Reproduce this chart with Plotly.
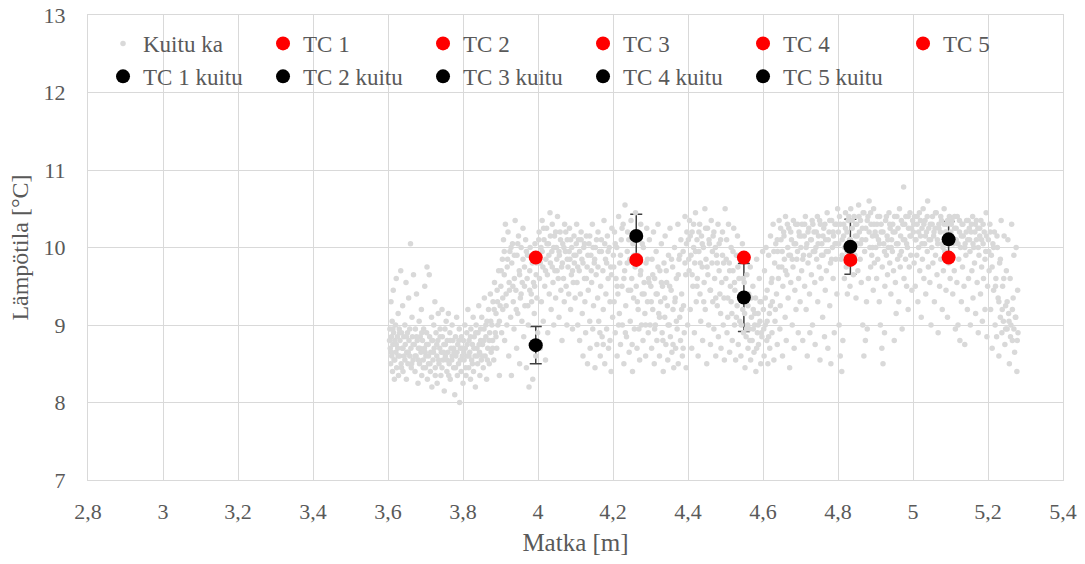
import plotly.graph_objects as go

# Fibre (Kuitu ka) temperature readings: (matka [m], lämpötila [°C])
kuitu_ka = [
(3.605,8.95),(3.606,8.7),(3.607,8.5),(3.608,9.3),(3.609,8.85),(3.61,8.6),(3.611,9.05),(3.612,8.4),(3.613,8.75),(3.614,9.45),(3.615,8.9),(3.616,8.55),(3.617,8.3),(3.618,8.8),(3.62,9.0),(3.621,8.65),(3.622,9.6),(3.623,8.45),(3.625,8.85),(3.626,8.7),(3.627,9.15),(3.628,8.35),(3.63,8.95),(3.631,8.6),(3.632,8.8),(3.634,9.7),(3.635,8.5),(3.636,8.9),(3.638,8.7),(3.639,9.25),(3.64,8.4),(3.642,8.85),(3.643,8.6),(3.645,9.0),(3.646,8.75),(3.648,9.55),(3.649,8.3),(3.65,8.65),(3.652,8.9),(3.653,8.5),(3.655,9.35),(3.656,8.8),(3.658,8.6),(3.66,10.05),(3.661,8.7),(3.662,8.45),(3.664,9.1),(3.665,8.85),(3.667,8.55),(3.668,9.65),(3.67,8.75),(3.672,8.4),(3.673,8.95),(3.675,8.6),(3.676,9.4),(3.678,8.8),(3.68,8.25),(3.681,8.7),(3.683,9.05),(3.684,8.5),(3.686,8.85),(3.688,8.65),(3.689,9.2),(3.69,8.35),(3.692,8.8),(3.694,8.55),(3.695,8.95),(3.697,8.7),(3.698,9.5),(3.7,8.45),
(3.701,8.6),(3.703,8.9),(3.704,9.75),(3.705,8.3),(3.707,8.75),(3.708,8.5),(3.71,9.65),(3.711,8.85),(3.713,8.4),(3.714,8.65),(3.716,9.1),(3.717,8.2),(3.719,8.8),(3.72,8.55),(3.722,9.0),(3.723,8.7),(3.725,9.3),(3.726,8.45),(3.728,8.9),(3.73,8.6),(3.731,8.25),(3.733,8.8),(3.734,9.15),(3.736,8.5),(3.738,8.7),(3.739,8.95),(3.741,8.35),(3.742,8.65),(3.744,9.2),(3.745,8.85),(3.747,8.55),(3.749,8.75),(3.75,8.15),(3.752,8.95),(3.753,8.6),(3.755,9.05),(3.757,8.4),(3.758,8.8),(3.76,8.65),(3.761,9.15),(3.763,8.5),(3.765,8.9),(3.766,8.3),(3.768,8.7),(3.77,8.55),(3.771,9.0),(3.773,8.8),(3.775,8.45),(3.776,8.65),(3.778,8.1),(3.78,8.85),(3.781,8.6),(3.783,9.1),(3.785,8.35),(3.786,8.75),(3.788,8.5),(3.79,8.95),(3.791,8.0),(3.793,8.7),(3.795,8.4),(3.796,8.85),(3.798,8.6),(3.8,8.25),
(3.801,8.8),(3.803,8.55),(3.805,9.0),(3.806,8.7),(3.808,8.35),(3.81,8.9),(3.811,8.6),(3.813,9.2),(3.815,8.45),(3.816,8.8),(3.818,8.65),(3.82,8.3),(3.821,8.95),(3.823,8.55),(3.825,8.75),(3.827,9.1),(3.828,8.4),(3.83,8.85),(3.832,8.6),(3.833,8.2),(3.835,9.0),(3.837,8.7),(3.839,8.5),(3.84,8.9),(3.842,9.25),(3.844,8.65),(3.845,8.35),(3.847,8.8),(3.849,8.55),(3.85,9.1),(3.852,8.75),(3.854,8.45),(3.856,8.95),(3.857,9.35),(3.859,8.6),(3.861,8.85),(3.863,8.3),(3.864,9.05),(3.866,8.7),(3.868,9.2),(3.87,8.5),(3.871,8.9),(3.873,9.4),(3.875,8.65),(3.877,9.0),(3.879,8.8),(3.88,9.3),(3.882,8.55),(3.884,9.55),(3.886,8.9),(3.888,9.15),(3.89,8.7),(3.891,9.45),(3.893,9.0),(3.895,9.7),(3.897,8.35),(3.899,9.25),
(3.901,9.5),(3.903,8.9),(3.905,9.85),(3.906,9.2),(3.908,10.1),(3.91,9.65),(3.911,8.8),(3.913,10.3),(3.915,9.4),(3.917,9.0),(3.918,9.75),(3.92,10.2),(3.922,8.6),(3.923,9.55),(3.925,9.95),(3.927,9.1),(3.929,8.35),(3.93,9.8),(3.932,10.05),(3.934,9.3),(3.936,8.95),(3.937,9.6),(3.939,10.35),(3.941,9.45),(3.943,8.7),(3.944,9.9),(3.946,9.15),(3.948,10.15),(3.95,9.7),(3.951,8.5),(3.953,9.35),(3.955,10.0),(3.957,9.05),(3.958,9.55),(3.96,10.25),(3.962,8.85),(3.964,9.75),(3.965,9.25),(3.967,10.1),(3.969,8.45),(3.971,9.6),(3.972,9.9),(3.974,9.0),(3.976,8.2),(3.978,9.45),(3.979,10.0),(3.981,8.75),(3.983,9.3),(3.985,9.8),(3.986,8.3),(3.988,9.55),(3.99,9.15),(3.992,10.05),(3.994,8.6),(3.995,9.65),(3.997,9.35),(3.999,8.9),
(4.001,9.9),(4.003,10.2),(4.004,9.6),(4.006,8.7),(4.008,10.0),(4.009,9.3),(4.011,10.35),(4.013,9.75),(4.014,9.05),(4.016,10.1),(4.018,9.5),(4.02,8.55),(4.021,9.85),(4.023,10.25),(4.025,9.65),(4.026,8.9),(4.028,10.05),(4.03,9.4),(4.032,10.45),(4.033,9.8),(4.035,9.2),(4.037,9.95),(4.038,10.3),(4.04,9.55),(4.042,9.0),(4.044,10.15),(4.045,9.7),(4.047,9.35),(4.049,10.0),(4.05,9.85),(4.052,10.4),(4.054,9.6),(4.056,9.1),(4.057,9.9),(4.059,10.2),(4.061,9.45),(4.063,9.75),(4.064,8.8),(4.066,10.05),(4.068,9.6),(4.07,9.3),(4.071,10.3),(4.073,9.95),(4.075,9.5),(4.077,9.0),(4.078,10.1),(4.08,9.75),(4.082,9.4),(4.084,10.25),(4.085,9.85),(4.087,9.2),(4.089,9.65),(4.09,10.0),(4.092,8.95),(4.094,9.55),(4.096,10.15),(4.097,9.8),(4.099,9.35),
(4.101,9.9),(4.103,10.3),(4.104,9.55),(4.106,9.0),(4.108,10.1),(4.11,9.7),(4.111,8.8),(4.113,9.4),(4.115,10.2),(4.117,9.85),(4.118,9.15),(4.12,8.6),(4.122,10.0),(4.124,9.6),(4.125,9.3),(4.127,8.9),(4.129,10.15),(4.131,9.75),(4.132,8.5),(4.134,9.45),(4.136,10.05),(4.138,9.05),(4.139,8.7),(4.141,9.9),(4.143,9.55),(4.145,10.3),(4.146,8.95),(4.148,9.25),(4.15,9.8),(4.152,8.45),(4.153,10.0),(4.155,9.65),(4.157,8.75),(4.159,9.35),(4.16,10.2),(4.162,9.05),(4.164,9.95),(4.166,8.6),(4.167,9.5),(4.169,10.1),(4.171,8.85),(4.173,9.7),(4.174,9.2),(4.176,10.35),(4.178,8.5),(4.18,9.85),(4.181,9.4),(4.183,8.95),(4.185,10.15),(4.187,9.6),(4.188,8.7),(4.19,10.0),(4.192,9.3),(4.194,9.75),(4.195,8.4),(4.197,10.25),(4.199,9.1),
(4.201,9.9),(4.203,9.3),(4.204,10.2),(4.206,8.9),(4.208,9.6),(4.21,10.0),(4.211,8.6),(4.213,9.4),(4.215,10.4),(4.217,9.15),(4.218,9.8),(4.22,8.75),(4.222,10.1),(4.224,9.5),(4.225,9.0),(4.227,10.3),(4.229,8.5),(4.231,9.7),(4.232,10.55),(4.234,9.25),(4.236,8.85),(4.238,9.95),(4.239,10.2),(4.241,9.45),(4.243,8.65),(4.245,9.85),(4.246,9.05),(4.248,10.35),(4.25,9.6),(4.252,8.4),(4.253,10.05),(4.255,9.35),(4.257,8.95),(4.259,9.75),(4.26,10.45),(4.262,9.5),(4.264,8.7),(4.266,9.9),(4.267,9.2),(4.269,10.1),(4.271,8.55),(4.273,9.65),(4.274,10.3),(4.276,9.0),(4.278,9.4),(4.28,8.8),(4.281,10.0),(4.283,9.55),(4.285,9.15),(4.287,8.6),(4.288,9.8),(4.29,10.25),(4.292,9.3),(4.294,8.9),(4.295,9.6),(4.297,10.1),(4.299,9.0),
(4.301,9.5),(4.303,8.7),(4.304,9.85),(4.306,9.2),(4.308,10.2),(4.31,8.5),(4.311,9.6),(4.313,9.0),(4.315,9.95),(4.317,8.8),(4.318,9.4),(4.32,10.3),(4.322,9.15),(4.324,8.6),(4.325,9.7),(4.327,9.3),(4.329,10.05),(4.331,8.9),(4.332,9.5),(4.334,8.4),(4.336,9.8),(4.338,9.1),(4.339,10.15),(4.341,8.75),(4.343,9.55),(4.345,9.25),(4.346,8.55),(4.348,9.9),(4.35,9.0),(4.352,10.25),(4.353,8.85),(4.355,9.45),(4.357,8.65),(4.359,9.75),(4.36,9.2),(4.362,8.45),(4.364,10.0),(4.366,9.35),(4.367,8.7),(4.369,9.6),(4.371,8.95),(4.373,10.3),(4.374,8.5),(4.376,9.85),(4.378,9.1),(4.38,8.8),(4.381,10.1),(4.383,9.4),(4.385,8.6),(4.387,9.95),(4.388,9.25),(4.39,8.9),(4.392,10.4),(4.394,9.65),(4.395,8.45),(4.397,10.2),(4.399,9.0),
(4.401,10.1),(4.403,9.7),(4.404,10.35),(4.406,9.2),(4.408,9.9),(4.41,8.7),(4.411,10.2),(4.413,9.5),(4.415,10.0),(4.417,8.9),(4.418,9.8),(4.42,10.45),(4.422,9.3),(4.424,10.1),(4.425,9.6),(4.427,8.6),(4.429,9.95),(4.431,10.3),(4.432,9.4),(4.434,9.05),(4.436,10.15),(4.438,9.75),(4.439,8.8),(4.441,10.0),(4.443,9.55),(4.445,10.5),(4.446,9.2),(4.448,9.85),(4.45,8.5),(4.452,10.25),(4.453,9.65),(4.455,9.0),(4.457,10.05),(4.459,9.45),(4.46,8.75),(4.462,10.35),(4.464,9.8),(4.466,9.3),(4.467,10.15),(4.469,8.95),(4.471,9.6),(4.473,10.0),(4.474,8.6),(4.476,9.9),(4.478,9.25),(4.48,10.3),(4.481,8.85),(4.483,9.7),(4.485,9.4),(4.487,10.1),(4.488,8.7),(4.49,9.55),(4.492,10.2),(4.494,9.0),(4.495,9.8),(4.497,8.55),(4.499,10.5),
(4.501,9.6),(4.503,10.1),(4.504,8.9),(4.506,9.35),(4.508,10.3),(4.51,9.8),(4.511,8.65),(4.513,9.5),(4.515,10.0),(4.517,9.15),(4.518,8.8),(4.52,9.7),(4.522,10.25),(4.524,9.0),(4.525,9.45),(4.527,8.55),(4.529,9.9),(4.531,9.25),(4.532,10.15),(4.534,8.75),(4.536,9.6),(4.538,9.05),(4.539,9.85),(4.541,8.6),(4.543,9.4),(4.545,10.05),(4.546,9.2),(4.548,8.9),(4.55,9.55),(4.552,8.45),(4.553,9.3),(4.555,8.85),(4.557,9.65),(4.559,9.0),(4.56,8.7),(4.562,9.4),(4.564,8.95),(4.566,9.75),(4.567,8.55),(4.569,9.1),(4.571,8.8),(4.573,9.5),(4.574,9.2),(4.576,8.65),(4.578,9.0),(4.58,9.35),(4.581,8.4),(4.583,9.85),(4.585,8.9),(4.587,9.15),(4.588,8.75),(4.59,9.6),(4.592,9.05),(4.594,8.5),(4.595,9.3),(4.597,8.85),(4.599,9.95),
(4.601,9.2),(4.603,8.6),(4.604,9.7),(4.606,9.0),(4.608,10.0),(4.61,8.8),(4.611,9.45),(4.613,8.5),(4.615,9.9),(4.617,9.15),(4.618,8.7),(4.62,10.15),(4.622,9.55),(4.624,8.9),(4.625,9.3),(4.627,10.3),(4.629,8.55),(4.631,9.8),(4.632,9.05),(4.634,10.05),(4.636,9.4),(4.638,8.75),(4.639,9.95),(4.641,9.6),(4.643,10.35),(4.645,8.95),(4.646,9.25),(4.648,10.1),(4.65,9.75),(4.652,8.6),(4.653,9.5),(4.655,10.2),(4.657,9.85),(4.659,9.1),(4.66,10.4),(4.662,8.8),(4.664,9.65),(4.666,10.0),(4.667,9.35),(4.669,10.25),(4.671,8.45),(4.673,9.9),(4.674,9.55),(4.676,10.1),(4.678,9.0),(4.68,9.75),(4.681,10.35),(4.683,8.7),(4.685,9.45),(4.687,10.05),(4.688,9.2),(4.69,9.85),(4.692,10.3),(4.694,8.9),(4.695,9.6),(4.697,10.15),(4.699,9.3),
(4.701,10.0),(4.703,9.7),(4.704,10.3),(4.706,8.8),(4.708,9.9),(4.71,10.15),(4.711,9.5),(4.713,10.4),(4.715,9.2),(4.717,10.05),(4.718,8.6),(4.72,9.8),(4.722,10.25),(4.724,9.4),(4.725,8.9),(4.727,10.1),(4.729,9.65),(4.731,10.35),(4.732,9.0),(4.734,9.95),(4.736,10.2),(4.738,9.55),(4.739,8.75),(4.741,10.0),(4.743,9.85),(4.745,10.4),(4.746,9.3),(4.748,10.15),(4.75,9.75),(4.752,8.55),(4.753,10.3),(4.755,9.6),(4.757,10.05),(4.759,9.1),(4.76,9.9),(4.762,10.25),(4.764,8.85),(4.766,9.45),(4.767,10.1),(4.769,9.7),(4.771,10.45),(4.773,8.7),(4.774,9.95),(4.776,10.2),(4.778,9.25),(4.78,9.8),(4.781,8.5),(4.783,10.35),(4.785,10.0),(4.787,9.6),(4.788,10.15),(4.79,8.9),(4.792,10.3),(4.794,9.85),(4.795,10.05),(4.797,9.4),(4.799,10.5),
(4.801,10.2),(4.803,9.0),(4.804,10.4),(4.806,8.6),(4.808,9.85),(4.81,8.4),(4.811,10.1),(4.813,8.8),(4.815,10.3),(4.817,9.6),(4.818,10.0),(4.82,10.45),(4.822,9.75),(4.824,10.2),(4.825,9.4),(4.827,10.35),(4.829,9.95),(4.831,10.1),(4.832,9.5),(4.834,10.5),(4.836,9.8),(4.838,10.25),(4.839,10.0),(4.841,9.65),(4.843,10.4),(4.845,9.9),(4.846,10.15),(4.848,9.35),(4.85,10.3),(4.852,10.05),(4.853,9.7),(4.855,10.55),(4.857,10.2),(4.859,9.85),(4.86,10.35),(4.862,9.55),(4.864,10.1),(4.866,9.0),(4.867,10.45),(4.869,8.6),(4.871,9.95),(4.873,8.8),(4.874,10.25),(4.876,9.3),(4.878,8.95),(4.88,10.4),(4.881,9.6),(4.883,10.6),(4.885,10.0),(4.887,9.75),(4.888,10.3),(4.89,9.9),(4.892,10.15),(4.894,9.45),(4.895,10.5),(4.897,9.8),(4.899,10.2),
(4.901,10.0),(4.903,9.6),(4.904,10.3),(4.906,9.85),(4.908,10.1),(4.91,9.3),(4.911,10.4),(4.913,9.0),(4.915,10.2),(4.917,8.7),(4.918,9.75),(4.92,8.5),(4.922,10.05),(4.924,8.9),(4.925,9.5),(4.927,10.35),(4.929,9.9),(4.931,10.15),(4.932,9.65),(4.934,10.0),(4.936,10.45),(4.938,9.8),(4.939,10.25),(4.941,9.4),(4.943,10.1),(4.945,9.95),(4.946,10.3),(4.948,9.7),(4.95,8.8),(4.952,10.2),(4.953,9.55),(4.955,9.15),(4.957,10.4),(4.959,9.85),(4.96,10.05),(4.962,9.3),(4.964,10.5),(4.966,9.75),(4.967,10.15),(4.969,9.95),(4.971,8.95),(4.973,10.3),(4.975,10.78),(4.976,9.6),(4.978,10.1),(4.98,9.85),(4.981,10.4),(4.983,9.5),(4.985,10.0),(4.987,9.2),(4.988,10.25),(4.99,9.75),(4.992,10.45),(4.994,9.9),(4.995,10.15),(4.997,9.45),(4.999,10.35),
(5.001,10.2),(5.003,9.8),(5.004,10.4),(5.006,9.5),(5.008,10.1),(5.01,9.9),(5.011,10.3),(5.013,9.3),(5.015,10.0),(5.017,10.45),(5.018,9.7),(5.02,10.15),(5.022,9.1),(5.024,10.25),(5.025,9.85),(5.027,10.5),(5.029,9.6),(5.031,10.05),(5.032,10.35),(5.034,9.4),(5.036,10.2),(5.038,9.95),(5.039,10.6),(5.041,9.75),(5.043,10.1),(5.045,9.55),(5.046,10.3),(5.048,9.0),(5.05,10.0),(5.052,10.4),(5.053,9.8),(5.055,10.15),(5.057,9.3),(5.059,10.25),(5.06,9.9),(5.062,10.45),(5.064,9.65),(5.066,10.05),(5.067,8.9),(5.069,10.3),(5.071,9.5),(5.073,10.2),(5.074,9.85),(5.076,10.35),(5.078,9.2),(5.08,10.0),(5.081,9.7),(5.083,10.5),(5.085,9.95),(5.087,10.15),(5.088,9.45),(5.09,10.3),(5.092,9.1),(5.094,10.05),(5.095,9.8),(5.097,10.4),(5.099,9.6),
(5.101,10.2),(5.103,9.9),(5.104,10.35),(5.106,9.4),(5.108,10.05),(5.11,9.7),(5.111,10.25),(5.113,8.95),(5.115,10.1),(5.117,9.55),(5.118,10.4),(5.12,9.0),(5.122,9.85),(5.124,10.2),(5.125,8.8),(5.127,10.0),(5.129,9.3),(5.131,10.3),(5.132,9.75),(5.134,10.15),(5.136,9.5),(5.138,8.75),(5.139,10.05),(5.141,9.9),(5.143,10.35),(5.145,9.2),(5.146,10.1),(5.148,9.6),(5.15,10.25),(5.152,9.95),(5.153,9.0),(5.155,10.2),(5.157,9.7),(5.159,10.4),(5.16,9.35),(5.162,10.0),(5.164,9.8),(5.166,10.3),(5.167,9.15),(5.169,10.1),(5.171,9.55),(5.173,10.25),(5.174,8.9),(5.176,9.9),(5.178,10.15),(5.18,9.4),(5.181,10.35),(5.183,9.75),(5.185,9.05),(5.187,10.05),(5.188,9.6),(5.19,10.2),(5.192,9.2),(5.194,9.95),(5.195,10.45),(5.197,8.85),(5.199,9.5),
(5.201,10.1),(5.203,9.7),(5.205,10.3),(5.207,9.2),(5.209,9.9),(5.211,8.7),(5.213,10.05),(5.215,9.45),(5.217,10.2),(5.219,9.0),(5.221,9.6),(5.223,8.85),(5.225,10.0),(5.227,9.35),(5.229,8.6),(5.231,9.8),(5.233,9.1),(5.235,10.35),(5.237,8.9),(5.239,9.5),(5.241,9.05),(5.243,10.15),(5.245,8.75),(5.247,9.25),(5.249,9.7),(5.251,8.95),(5.253,10.1),(5.255,9.15),(5.257,8.5),(5.259,9.6),(5.261,9.0),(5.263,10.3),(5.265,8.8),(5.267,9.35),(5.269,9.9),(5.271,8.65),(5.273,9.1),(5.275,10.0),(5.277,8.4),(5.279,9.45),(5.28,8.9),
]
# second pass of readings, denser band of the fibre cloud
kuitu_ka_2 = [
(3.604,8.8),(3.609,8.65),(3.613,8.95),(3.618,8.55),(3.622,8.75),(3.627,8.6),(3.631,8.9),(3.636,8.45),(3.64,8.7),(3.645,8.55),(3.649,8.85),(3.654,8.65),(3.658,8.95),(3.663,8.5),(3.667,8.75),(3.672,8.6),(3.676,8.85),(3.681,8.55),(3.685,8.7),(3.69,8.9),(3.694,8.45),(3.699,8.65),
(3.703,8.75),(3.708,8.6),(3.712,8.5),(3.717,8.8),(3.721,8.65),(3.726,8.35),(3.73,8.75),(3.735,8.55),(3.739,8.85),(3.744,8.45),(3.748,8.65),(3.753,8.75),(3.757,8.55),(3.762,8.35),(3.766,8.8),(3.771,8.6),(3.775,8.7),(3.78,8.45),(3.784,8.65),(3.789,8.8),(3.793,8.55),(3.798,8.7),
(3.802,8.65),(3.807,8.45),(3.811,8.75),(3.816,8.6),(3.82,8.85),(3.825,8.5),(3.829,8.7),(3.834,8.9),(3.838,8.6),(3.843,8.75),(3.847,8.95),(3.852,8.6),(3.856,8.8),(3.861,9.0),(3.865,8.55),(3.87,8.8),(3.874,9.05),(3.879,8.7),(3.883,9.2),(3.888,8.85),(3.892,9.3),(3.897,9.05),
(3.902,9.7),(3.906,9.35),(3.91,9.95),(3.915,9.25),(3.919,9.85),(3.924,9.45),(3.928,10.0),(3.933,9.5),(3.937,9.9),(3.942,9.2),(3.946,10.05),(3.951,9.65),(3.955,9.4),(3.96,9.85),(3.964,9.5),(3.969,9.95),(3.973,9.25),(3.978,9.7),(3.982,9.4),(3.987,9.9),(3.991,9.5),(3.996,9.8),
(4.002,10.1),(4.006,9.8),(4.011,9.95),(4.015,10.25),(4.02,9.7),(4.024,10.05),(4.029,9.9),(4.033,10.15),(4.038,9.75),(4.042,10.0),(4.047,10.2),(4.051,9.7),(4.056,9.95),(4.06,10.1),(4.065,9.8),(4.069,10.0),(4.074,10.2),(4.078,9.85),(4.083,9.95),(4.087,10.1),(4.092,9.7),(4.096,9.9),
(4.102,10.05),(4.106,9.75),(4.111,9.95),(4.115,10.1),(4.12,9.8),(4.124,10.05),(4.129,9.6),(4.133,9.9),(4.138,10.15),(4.142,9.7),(4.147,10.0),(4.151,9.85),(4.156,10.1),(4.16,9.75),(4.165,8.9),(4.169,9.95),(4.174,8.75),(4.178,10.05),(4.183,9.8),(4.187,9.95),(4.192,8.8),(4.196,9.65),
(4.202,9.75),(4.206,10.05),(4.211,9.5),(4.215,9.0),(4.22,9.9),(4.224,10.25),(4.229,9.6),(4.233,8.9),(4.238,9.8),(4.242,10.1),(4.247,9.45),(4.251,8.75),(4.256,9.9),(4.26,10.15),(4.265,9.3),(4.269,8.95),(4.274,9.7),(4.278,10.05),(4.283,9.4),(4.287,9.0),(4.292,9.85),(4.296,9.55),
(4.302,9.3),(4.306,9.65),(4.311,8.95),(4.315,9.4),(4.32,9.75),(4.324,9.1),(4.329,9.55),(4.333,8.8),(4.338,9.35),(4.342,9.7),(4.347,9.0),(4.351,9.5),(4.356,9.85),(4.36,8.75),(4.365,9.3),(4.369,9.05),(4.374,9.65),(4.378,9.9),(4.383,9.2),(4.387,8.7),(4.392,9.8),(4.396,10.05),
(4.402,9.85),(4.406,10.15),(4.411,9.65),(4.415,10.3),(4.42,9.95),(4.424,9.5),(4.429,10.2),(4.433,9.8),(4.438,10.05),(4.442,9.3),(4.447,10.25),(4.451,9.75),(4.456,10.1),(4.46,9.45),(4.465,9.95),(4.469,10.2),(4.474,9.35),(4.478,9.8),(4.483,10.05),(4.487,9.15),(4.492,9.9),(4.496,9.35),
(4.502,9.85),(4.506,9.1),(4.511,9.7),(4.515,9.3),(4.52,9.95),(4.524,9.55),(4.529,9.1),(4.533,9.75),(4.538,9.35),(4.542,9.0),(4.547,9.6),(4.551,9.15),(4.556,8.95),(4.56,9.25),(4.565,8.8),(4.569,9.35),(4.574,8.95),(4.578,9.15),(4.583,8.7),(4.587,9.0),(4.592,9.3),(4.596,8.9),
(4.602,8.95),(4.606,9.35),(4.611,9.05),(4.615,8.85),(4.62,9.25),(4.624,9.6),(4.629,9.95),(4.633,9.2),(4.638,10.1),(4.642,9.75),(4.647,10.25),(4.651,9.95),(4.656,10.15),(4.66,9.7),(4.665,10.3),(4.669,9.9),(4.674,10.2),(4.678,9.85),(4.683,10.05),(4.687,10.3),(4.692,9.95),(4.696,10.2),
(4.702,10.15),(4.706,9.85),(4.711,10.3),(4.715,10.0),(4.72,10.2),(4.724,9.9),(4.729,10.1),(4.733,10.3),(4.738,9.95),(4.742,10.2),(4.747,10.05),(4.751,10.35),(4.756,9.9),(4.76,10.15),(4.765,10.3),(4.769,9.95),(4.774,10.1),(4.778,10.35),(4.783,9.85),(4.787,10.2),(4.792,10.05),(4.796,10.3),
(4.802,10.05),(4.806,10.3),(4.811,9.9),(4.815,10.15),(4.82,10.25),(4.824,9.95),(4.829,10.4),(4.833,10.1),(4.838,10.35),(4.842,10.0),(4.847,10.3),(4.851,10.15),(4.856,10.4),(4.86,10.05),(4.865,10.25),(4.869,10.45),(4.874,10.1),(4.878,10.35),(4.883,10.2),(4.887,10.45),(4.892,10.0),(4.896,10.3),
(4.902,10.15),(4.906,10.4),(4.911,10.05),(4.915,10.3),(4.92,10.2),(4.924,9.95),(4.929,10.4),(4.933,10.1),(4.938,10.3),(4.942,10.0),(4.947,10.2),(4.951,10.4),(4.956,10.05),(4.96,10.25),(4.965,9.9),(4.969,10.35),(4.974,10.1),(4.978,10.3),(4.983,10.05),(4.987,10.4),(4.992,10.15),(4.996,10.25),
(5.002,10.3),(5.006,10.1),(5.011,10.4),(5.015,10.2),(5.02,10.35),(5.024,10.05),(5.029,10.3),(5.033,10.15),(5.038,10.4),(5.042,10.25),(5.047,10.1),(5.051,10.3),(5.056,10.2),(5.06,10.45),(5.065,10.1),(5.069,10.25),(5.074,10.4),(5.078,10.05),(5.083,10.3),(5.087,10.2),(5.092,10.35),(5.096,10.1),
(5.102,10.3),(5.106,10.1),(5.111,10.4),(5.115,10.25),(5.12,10.05),(5.124,10.35),(5.129,10.15),(5.133,10.3),(5.138,10.0),(5.142,10.2),(5.147,10.35),(5.151,10.1),(5.156,10.3),(5.16,10.05),(5.165,10.2),(5.169,10.35),(5.174,10.0),(5.178,10.25),(5.183,10.1),(5.187,10.3),(5.192,9.85),(5.196,10.15),
(5.202,9.95),(5.206,10.2),(5.211,9.75),(5.215,10.0),(5.22,9.5),(5.224,10.15),(5.229,9.3),(5.233,9.85),(5.238,9.2),(5.242,9.6),(5.247,8.95),(5.251,9.3),(5.256,9.05),(5.26,8.85),(5.265,9.2),(5.269,8.95),(5.274,9.1),(5.278,8.8),
]
kuitu_x = [p[0] for p in kuitu_ka + kuitu_ka_2]
kuitu_y = [p[1] for p in kuitu_ka + kuitu_ka_2]

# Thermocouple readings
tc_names = ["TC 1", "TC 2", "TC 3", "TC 4", "TC 5"]
tc_x = [3.994, 4.262, 4.549, 4.833, 5.095]
tc_y = [9.87, 9.84, 9.87, 9.84, 9.87]

# Fibre values at thermocouple positions with error (std)
tck_names = ["TC 1 kuitu", "TC 2 kuitu", "TC 3 kuitu", "TC 4 kuitu", "TC 5 kuitu"]
tck_y = [8.74, 10.15, 9.355, 10.01, 10.105]
tck_err = [0.24, 0.28, 0.44, 0.355, 0.23]

x_ticks = [2.8, 3.0, 3.2, 3.4, 3.6, 3.8, 4.0, 4.2, 4.4, 4.6, 4.8, 5.0, 5.2, 5.4]
x_ticklabels = ["2,8", "3", "3,2", "3,4", "3,6", "3,8", "4", "4,2", "4,4", "4,6", "4,8", "5", "5,2", "5,4"]

FONT = "Liberation Serif"
TXT = "#595959"
GRID = "#d9d9d9"

fig = go.Figure()

# error bars drawn first (behind the fibre cloud)
for i in range(5):
    fig.add_trace(go.Scatter(
        x=[tc_x[i]], y=[tck_y[i]], mode="markers",
        marker=dict(size=1, color="rgba(0,0,0,0)"),
        error_y=dict(type="data", array=[tck_err[i]], color="#404040", thickness=1.5, width=6),
        showlegend=False, hoverinfo="skip"))

fig.add_trace(go.Scatter(
    x=kuitu_x, y=kuitu_y, mode="markers", name="Kuitu ka",
    marker=dict(size=5.5, color=GRID)))

for i in range(5):
    fig.add_trace(go.Scatter(
        x=[tc_x[i]], y=[tc_y[i]], mode="markers", name=tc_names[i],
        marker=dict(size=14, color="#ff0000")))

for i in range(5):
    fig.add_trace(go.Scatter(
        x=[tc_x[i]], y=[tck_y[i]], mode="markers", name=tck_names[i],
        marker=dict(size=14, color="#000000")))

fig.update_layout(
    template="none",
    width=1085, height=564,
    margin=dict(l=88, r=22, t=15, b=84, autoexpand=False),
    paper_bgcolor="white", plot_bgcolor="white",
    font=dict(family=FONT, size=22, color=TXT),
    showlegend=True,
    legend=dict(orientation="h", x=0.0154, y=0.985, xanchor="left", yanchor="top",
                entrywidth=115, entrywidthmode="pixels",
                font=dict(family=FONT, size=23, color=TXT),
                bgcolor="rgba(255,255,255,0)", borderwidth=0, tracegroupgap=0),
    xaxis=dict(range=[2.8, 5.4], tickvals=x_ticks, ticktext=x_ticklabels,
               showgrid=True, gridcolor=GRID, gridwidth=1.3,
               showline=True, linecolor=GRID, linewidth=1.3, mirror=True,
               zeroline=False, ticks="", ticklabelstandoff=11,
               tickfont=dict(family=FONT, size=22, color=TXT),
               title=dict(text="Matka [m]", font=dict(family=FONT, size=25, color=TXT), standoff=10)),
    yaxis=dict(range=[7, 13], dtick=1, tick0=7,
               showgrid=True, gridcolor=GRID, gridwidth=1.3,
               showline=True, linecolor=GRID, linewidth=1.3, mirror=True,
               zeroline=False, ticks="", ticklabelstandoff=17,
               tickfont=dict(family=FONT, size=22, color=TXT),
               title=dict(text="Lämpötila [°C]", font=dict(family=FONT, size=24, color=TXT), standoff=8)),
)

fig.write_html("out.html")
